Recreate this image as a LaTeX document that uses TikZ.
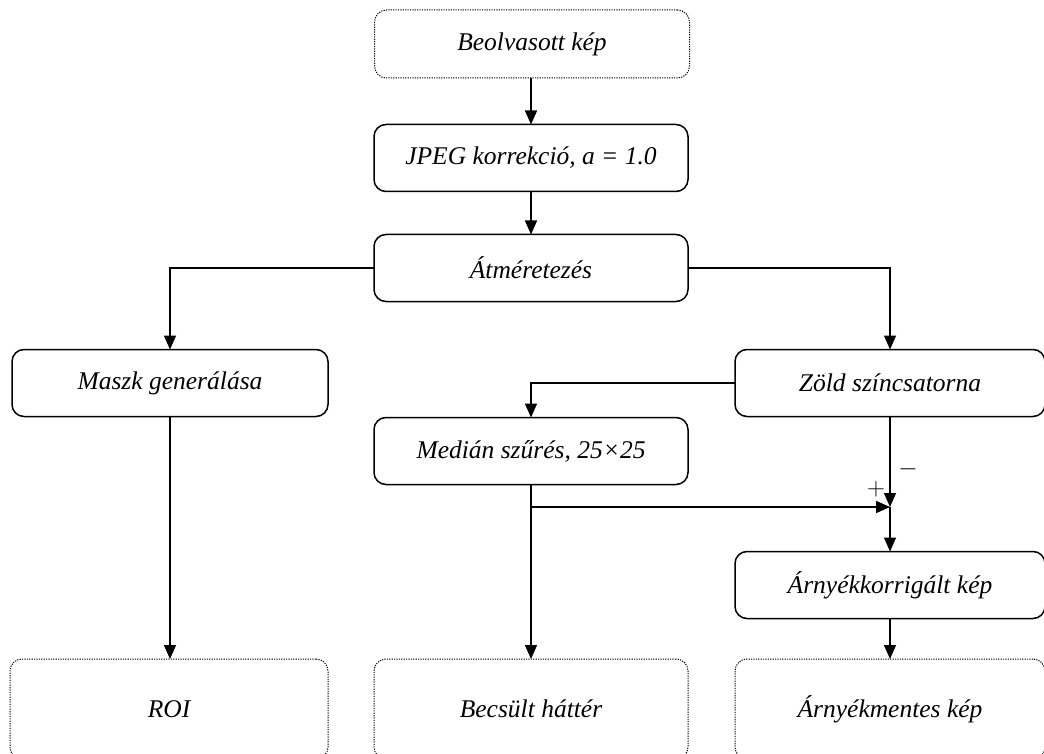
\documentclass[tikz,border=0pt]{standalone}
\usepackage{fontspec}
\setmainfont{Liberation Serif}
\usetikzlibrary{arrows.meta}
\begin{document}
\begin{tikzpicture}[x=1pt,y=-1pt,
  box/.style={draw, line width=1.5pt, rounded corners=12pt, minimum height=67pt, inner sep=0pt, outer sep=0pt, font=\fontsize{25.5}{29}\selectfont\itshape},
  endbox/.style={draw, line width=1pt, dash pattern=on 1.2pt off 1.2pt, rounded corners=12pt, inner sep=0pt, outer sep=0pt, font=\fontsize{25.5}{29}\selectfont\itshape},
  arr/.style={line width=1.5pt, -{Triangle[length=14pt,width=12pt]}},
  sign/.style={font=\fontsize{26}{28}\selectfont, inner sep=0pt}]
\clip (0,0) rectangle (1044,754);
\useasboundingbox (0,0) rectangle (1044,754);
\node[endbox, minimum width=315pt, minimum height=68pt] (beolv) at (532,44) {Beolvasott kép};
\node[box, minimum width=314pt] (jpeg) at (531,158) {JPEG korrekció, \textit{a} = 1.0};
\node[box, minimum width=314pt] (atm) at (531,268) {Átméretezés};
\node[box, minimum width=316pt] (maszk) at (170,383) {Maszk generálása};
\node[box, minimum width=310pt] (zold) at (890,383) {Zöld színcsatorna};
\node[box, minimum width=314pt] (median) at (531,451) {Medián szűrés, 25×25};
\node[box, minimum width=310pt] (arnyk) at (890,585) {Árnyékkorrigált kép};
\node[endbox, minimum width=318pt, minimum height=100pt] (roi) at (169,709) {ROI};
\node[endbox, minimum width=314pt, minimum height=100pt] (becs) at (531,709) {Becsült háttér};
\node[endbox, minimum width=310pt, minimum height=100pt] (arnym) at (890,709) {Árnyékmentes kép};
\coordinate (j) at (890,507);
\coordinate (b) at (531,507);
\node[sign] (plussign) at (876,489) {$+$};
\node[sign] (minussign) at (908,469) {$-$};
\draw[arr] (beolv.south -| jpeg.north) -- (jpeg.north);
\draw[arr] (jpeg.south) -- (atm.north);
\draw[arr] (atm.west) -| (maszk.north);
\draw[arr] (atm.east) -| (zold.north);
\draw[arr] (zold.west) -| (median.north);
\draw[arr] (zold.south) -- (j);
\draw[arr] (b) -- (j);
\draw[arr] (j) -- (arnyk.north);
\draw[arr] (median.south) -- (becs.north);
\draw[arr] (maszk.south) -- (maszk.south |- roi.north);
\draw[arr] (arnyk.south) -- (arnym.north);
\end{tikzpicture}
\end{document}
